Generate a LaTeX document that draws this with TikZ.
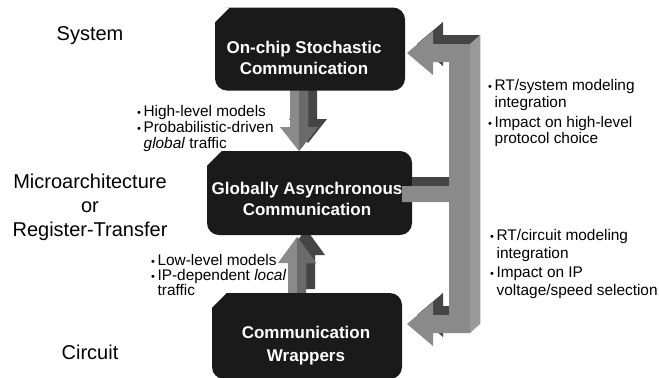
\documentclass[tikz,border=0pt]{standalone}
\usepackage{fontspec}
\setmainfont{Liberation Sans}
\definecolor{boxc}{HTML}{1A1A1A}
\definecolor{afront}{HTML}{8A8A8A}
\definecolor{ashade}{HTML}{6A6A6A}
\definecolor{aback}{HTML}{454545}
\definecolor{aside}{HTML}{9A9A9A}
\newcommand\bul{{\fontsize{11bp}{11bp}\selectfont\textbullet}\hspace{2.5bp}}
\begin{document}
\begin{tikzpicture}[x=1bp,y=-1bp,
  box/.style={fill=boxc, rounded corners=12bp, inner sep=0},
  boxtext/.style={text=white, font=\fontsize{17bp}{21bp}\selectfont\bfseries, inner sep=0, anchor=base},
  lvl/.style={font=\fontsize{20bp}{24bp}\selectfont, inner sep=0, anchor=base},
  blt/.style={font=\fontsize{15.4bp}{17.5bp}\selectfont, inner sep=0, anchor=base west},
  front/.style={fill=afront},
  shade/.style={fill=ashade},
  back/.style={fill=aback},
  side/.style={fill=aside}]
\fill[white] (0,0) rectangle (659,377);
\useasboundingbox (0,0) rectangle (659,377);

% level labels
\node[lvl] (lsys) at (90,40) {System};
\node[lvl] (lmic) at (90,188) {Microarchitecture};
\node[lvl] (lor)  at (90,212) {or};
\node[lvl] (lreg) at (90,236) {Register-Transfer};
\node[lvl] (lcir) at (90,359) {Circuit};

% vertical arrows (3D)
\fill[back, shift={(9,-8)}] (290,85) -- (308,85) -- (308,127) -- (318,127) -- (299,151) -- (280,127) -- (290,127) -- cycle;
\fill[front] (290,85) -- (308,85) -- (308,127) -- (318,127) -- (299,151) -- (280,127) -- (290,127) -- cycle;
\fill[shade] (299,85) -- (308,85) -- (308,127) -- (318,127) -- (299,151) -- cycle;
\fill[back, shift={(9,-8)}] (288,297) -- (288,263) -- (278,263) -- (297,237) -- (316,263) -- (306,263) -- (306,297) -- cycle;
\fill[front] (288,297) -- (288,263) -- (278,263) -- (297,237) -- (316,263) -- (306,263) -- (306,297) -- cycle;
\fill[shade] (297,297) -- (297,237) -- (316,263) -- (306,263) -- (306,297) -- cycle;

% boxes
\node[box, minimum width=190bp, minimum height=83bp] (b1) at (310,49) {};
\node[box, minimum width=205bp, minimum height=84bp] (b2) at (309.5,193) {};
\node[box, minimum width=190bp, minimum height=86bp] (b3) at (307,336) {};
\foreach \b in {b1,b2,b3}
  \fill[white] (\b.north west) -- ++(15,0) -- ++(-15,15) -- cycle;
\node[boxtext] (t1a) at (304,53) {On-chip Stochastic};
\node[boxtext] (t1b) at (304,74) {Communication};
\node[boxtext] (t2a) at (307,194) {Globally Asynchronous};
\node[boxtext] (t2b) at (307,215) {Communication};
\node[boxtext] (t3a) at (306,338) {Communication};
\node[boxtext] (t3b) at (306,361) {Wrappers};

% right bracket (3D)
\def\bracketpath{(407,53) -- (433,31) -- (433,44) -- (470,44) -- (470,333) -- (433,333) -- (433,346) -- (407,324) -- (433,302) -- (433,315) -- (449,315) -- (449,202) -- (402,202) -- (402,186) -- (449,186) -- (449,62) -- (433,62) -- (433,75) -- cycle}
\fill[back, shift={(10,-9)}] \bracketpath;
\fill[side] (470,44) -- (480,35) -- (480,324) -- (470,333) -- cycle;
\fill[front] \bracketpath;

% bullet texts
\node[blt] (ua) at (137,116.5) {\bul High-level models};
\node[blt] (ub) at (137,132.5) {\bul Probabilistic-driven};
\node[blt] (uc) at (143.5,148.5) {\textit{global} traffic};
\node[blt] (la) at (151,265.5) {\bul Low-level models};
\node[blt] (lb) at (151,280.5) {\bul IP-dependent \textit{local}};
\node[blt] (lc) at (157.5,295.5) {traffic};
\node[blt] (ra) at (488,90.5) {\bul RT/system modeling};
\node[blt] (rb) at (494.5,107.5) {integration};
\node[blt] (rc) at (488,127.5) {\bul Impact on high-level};
\node[blt] (rd) at (494.5,143.5) {protocol choice};
\node[blt] (sa) at (490,240.5) {\bul RT/circuit modeling};
\node[blt] (sb) at (496.5,258.5) {integration};
\node[blt] (sc) at (490,277.5) {\bul Impact on IP};
\node[blt] (sd) at (496.5,295.5) {voltage/speed selection};
\end{tikzpicture}
\end{document}
